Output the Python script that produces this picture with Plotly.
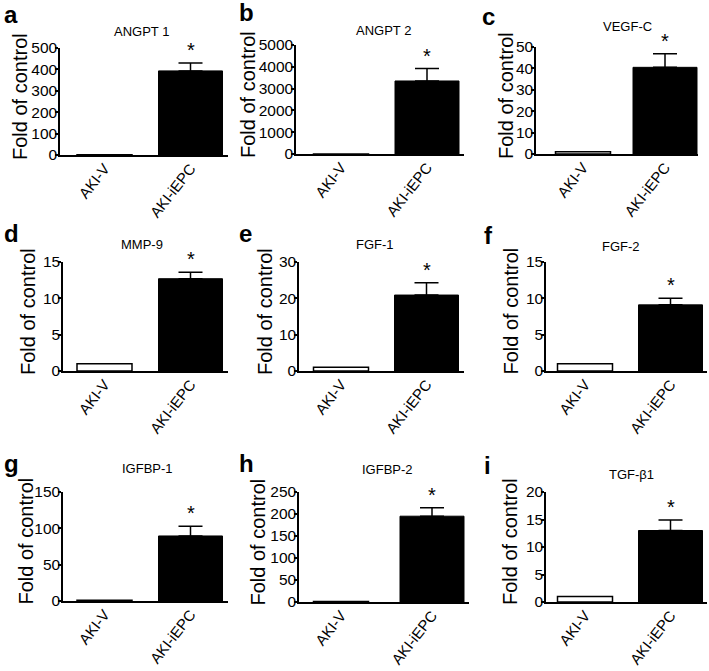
import plotly.graph_objects as go

# ---------------- data ----------------
genes = ["ANGPT 1", "ANGPT 2", "VEGF-C", "MMP-9", "FGF-1", "FGF-2", "IGFBP-1", "IGFBP-2", "TGF-β1"]
letters = ["a", "b", "c", "d", "e", "f", "g", "h", "i"]
groups = ["AKI-V", "AKI-iEPC"]
ctrl_vals = [1, 1, 1, 1, 1, 1, 1, 1, 1]
iepc_vals = [393, 3350, 40.5, 12.7, 20.9, 9.1, 89.5, 195, 13.0]
iepc_err = [37, 570, 6.3, 0.9, 3.4, 0.9, 13.4, 19, 1.9]
y_max = [500, 5000, 50, 15, 30, 15, 150, 250, 20]
y_dtick = [100, 1000, 10, 5, 10, 5, 50, 50, 5]
y_label = "Fold of control"

# ---------------- layout geometry (pixels) ----------------
W, H = 709, 671
# axis left, axis right, axis top, axis bottom, centre of bar 0, centre of bar 1
geom = [
    (60, 228, 48, 155, 104.5, 190.5),
    (296, 464, 45, 154, 341, 427),
    (536, 698, 47, 154, 583, 665),
    (63, 228, 262, 371, 104.5, 190.5),
    (299, 464, 262, 371, 341, 426.5),
    (546, 707, 262, 371, 585, 670.5),
    (63, 228, 492, 601, 104.5, 190.5),
    (299, 469, 492, 602, 341, 432),
    (546, 707, 492, 602, 585, 670.5),
]
title_pos = [(141, 31), (383, 30), (627, 26), (142, 244), (375, 244), (621, 246),
             (147, 468), (387, 469), (631, 475)]
ytitle_x = [19.5, 247.5, 506.5, 27.5, 264.5, 510, 25, 257.5, 510]
letter_pos = [(2, -1), (237, -3), (480, 1), (2, 218), (237, 218), (482, 220),
              (2, 448), (237, 448), (482, 450)]

FONT = "Arial, Liberation Sans, sans-serif"
WHITE_W, BLACK_W = 55, 64

def fx(px):
    return px / W

def fy(py):
    return 1 - py / H

fig = go.Figure()
layout = dict(
    width=W, height=H, margin=dict(l=0, r=0, t=0, b=0, autoexpand=False),
    paper_bgcolor="white", plot_bgcolor="white", showlegend=False,
    barmode="overlay", font=dict(family=FONT, color="black"),
)
annotations = []

for k in range(9):
    xl, xr, yt, yb, c0, c1 = geom[k]
    unit = c1 - c0
    xr_lo = (xl - c0) / unit
    xr_hi = 1 + (xr - c1) / unit
    sfx = "" if k == 0 else str(k + 1)
    xa, ya = "x" + sfx, "y" + sfx

    fig.add_trace(go.Bar(
        x=[groups[0]], y=[ctrl_vals[k]], xaxis=xa, yaxis=ya,
        width=WHITE_W / unit, marker=dict(color="white", line=dict(color="black", width=1.5)),
    ))
    fig.add_trace(go.Bar(
        x=[groups[1]], y=[iepc_vals[k]], xaxis=xa, yaxis=ya,
        width=BLACK_W / unit, marker=dict(color="black", line=dict(color="black", width=1)),
        error_y=dict(type="data", array=[iepc_err[k]], arrayminus=[0], symmetric=False,
                     color="black", thickness=1.5, width=12),
    ))

    layout["xaxis" + sfx] = dict(
        domain=[fx(xl), fx(xr)], anchor=ya, type="category", automargin=False,
        categoryorder="array", categoryarray=groups,
        range=[xr_lo, xr_hi], showline=True, linecolor="black", linewidth=1.5,
        ticks="", showgrid=False, zeroline=False, tickangle=-52,
        ticklabelstandoff=-3,
        tickfont=dict(family=FONT, size=15, color="black"), fixedrange=True,
    )
    layout["yaxis" + sfx] = dict(
        domain=[fy(yb), fy(yt)], anchor=xa, range=[0, y_max[k]], automargin=False,
        tick0=0, dtick=y_dtick[k], showline=True, linecolor="black", linewidth=1.5,
        ticks="outside", ticklen=3, tickwidth=1.5, tickcolor="black",
        ticklabelstandoff=-5,
        showgrid=False, zeroline=False,
        tickfont=dict(family=FONT, size=15.5, color="black"), fixedrange=True,
    )

    # star above the treated bar
    annotations.append(dict(
        x=groups[1], y=iepc_vals[k] + iepc_err[k], xref=xa, yref=ya,
        text="*", showarrow=False, yanchor="bottom", yshift=0,
        font=dict(family=FONT, size=20, color="black"),
    ))
    # panel title
    tx, ty = title_pos[k]
    annotations.append(dict(
        x=fx(tx), y=fy(ty), xref="paper", yref="paper", text=genes[k],
        showarrow=False, xanchor="center", yanchor="middle",
        font=dict(family=FONT, size=13, color="black"),
    ))
    # y-axis title
    annotations.append(dict(
        x=fx(ytitle_x[k]), y=fy((yt + yb) / 2 - 5), xref="paper", yref="paper",
        text=y_label, textangle=-90, showarrow=False,
        xanchor="center", yanchor="middle",
        font=dict(family=FONT, size=20, color="black"),
    ))
    # panel letter
    lx, ly = letter_pos[k]
    annotations.append(dict(
        x=fx(lx), y=fy(ly), xref="paper", yref="paper",
        text="<b>" + letters[k] + "</b>", showarrow=False,
        xanchor="left", yanchor="top",
        font=dict(family=FONT, size=24, color="black"),
    ))

layout["annotations"] = annotations
fig.update_layout(**layout)
fig.write_html("out.html", post_script="document.body.style.margin='0';",
               config={"displayModeBar": False})
